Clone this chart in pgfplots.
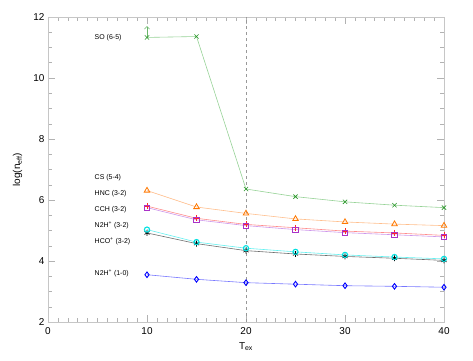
\documentclass[border=0pt]{standalone}
\usepackage{fontspec}
\setmainfont{Liberation Sans}
\usepackage{pgfplots}
\pgfplotsset{compat=1.18}
\usetikzlibrary{arrows.meta}

\definecolor{cso}{RGB}{40,150,40}
\definecolor{csol}{RGB}{150,210,150}
\definecolor{ccs}{RGB}{255,120,0}
\definecolor{ccsl}{RGB}{255,190,140}
\definecolor{chnc}{RGB}{255,40,40}
\definecolor{chncl}{RGB}{255,140,140}
\definecolor{ccch}{RGB}{170,50,200}
\definecolor{ccchl}{RGB}{205,150,235}
\definecolor{cn2h}{RGB}{0,225,225}
\definecolor{cn2hl}{RGB}{100,240,240}
\definecolor{chco}{RGB}{0,0,0}
\definecolor{chcol}{RGB}{110,110,110}
\definecolor{cn2ha}{RGB}{0,0,255}
\definecolor{cn2hal}{RGB}{120,120,255}

\begin{document}
\begin{tikzpicture}[x=1bp,y=1bp]
\useasboundingbox (0,0) rectangle (473,360);
\begin{axis}[
    at={(48bp,38bp)}, anchor=south west,
    scale only axis,
    width=396bp, height=305bp,
    xmin=0, xmax=40, ymin=2, ymax=12,
    xtick={0,10,20,30,40}, ytick={2,4,6,8,10,12},
    minor x tick num=9, minor y tick num=3,
    tick align=inside,
    major tick length=7bp, minor tick length=4bp,
    axis line style={gray!45, line width=0.8pt},
    every tick/.style={gray!60, line width=0.5pt},
    tick label style={font=\fontsize{10}{12}\selectfont},
    /pgf/number format/assume math mode=true,
    xticklabel style={yshift=-2bp},
    xlabel={T\textsubscript{ex}},
    ylabel={log(n\textsubscript{eff})},
    label style={font=\fontsize{10}{12}\selectfont},
    xlabel style={at={(axis description cs:0.5,-0.056)}, anchor=north},
    ylabel style={at={(axis description cs:-0.056,0.5)}, anchor=south},
    clip=false,
]
\draw[gray!80, dashed, line width=0.8pt] (axis cs:20,2) -- (axis cs:20,12);

% SO (6-5)
\addplot[csol, line width=0.6pt, mark=x, mark size=3pt, mark options={cso, solid, line width=0.6pt}] coordinates {
 (10,11.33) (15,11.36) (20,6.36) (25,6.11) (30,5.94) (35,5.83) (40,5.75)};
\draw[cso!70, line width=0.6pt, -{Straight Barb[length=2.5bp,width=5bp]}] (axis cs:10,11.36) -- (axis cs:10,11.70);

% CS (5-4)
\addplot[ccsl, line width=0.6pt, mark=triangle, mark size=3.2pt, mark options={ccs, solid, line width=0.8pt}] coordinates {
 (10,6.31) (15,5.77) (20,5.56) (25,5.38) (30,5.28) (35,5.21) (40,5.16)};

% HNC (3-2)
\addplot[chncl, line width=0.6pt, mark=+, mark size=3pt, mark options={chnc, solid, line width=0.6pt}] coordinates {
 (10,5.80) (15,5.40) (20,5.20) (25,5.09) (30,4.98) (35,4.92) (40,4.84)};

% CCH (3-2)
\addplot[ccchl, line width=0.6pt, mark=square, mark size=2.6pt, mark options={ccch, solid, line width=0.9pt}] coordinates {
 (10,5.75) (15,5.35) (20,5.16) (25,5.03) (30,4.93) (35,4.86) (40,4.79)};

% HCO+ (3-2)
\addplot[chcol, line width=0.6pt, mark=asterisk, mark size=3pt, mark options={chco, solid, line width=0.6pt}] coordinates {
 (10,4.92) (15,4.57) (20,4.34) (25,4.23) (30,4.15) (35,4.09) (40,4.02)};

% N2H+ (3-2)
\addplot[cn2hl, line width=0.6pt, mark=o, mark size=2.6pt, mark options={cn2h, solid, line width=1.1pt}] coordinates {
 (10,5.03) (15,4.62) (20,4.42) (25,4.30) (30,4.20) (35,4.13) (40,4.07)};

% N2H+ (1-0)
\addplot[cn2hal, line width=0.6pt, mark=diamond, mark size=2.8pt, mark options={cn2ha, solid, line width=0.9pt}] coordinates {
 (10,3.55) (15,3.40) (20,3.29) (25,3.24) (30,3.19) (35,3.17) (40,3.14)};

\begin{scope}[every node/.style={anchor=west, inner sep=0pt, font=\fontsize{7}{8}\selectfont}]
\node at (axis cs:4.7,11.31) {SO (6-5)};
\node at (axis cs:4.7,6.72) {CS (5-4)};
\node at (axis cs:4.7,6.22) {HNC (3-2)};
\node at (axis cs:4.7,5.68) {CCH (3-2)};
\node at (axis cs:4.7,5.17) {N2H\textsuperscript{+} (3-2)};
\node at (axis cs:4.7,4.64) {HCO\textsuperscript{+} (3-2)};
\node at (axis cs:4.7,3.60) {N2H\textsuperscript{+} (1-0)};
\end{scope}
\end{axis}
\end{tikzpicture}
\end{document}
